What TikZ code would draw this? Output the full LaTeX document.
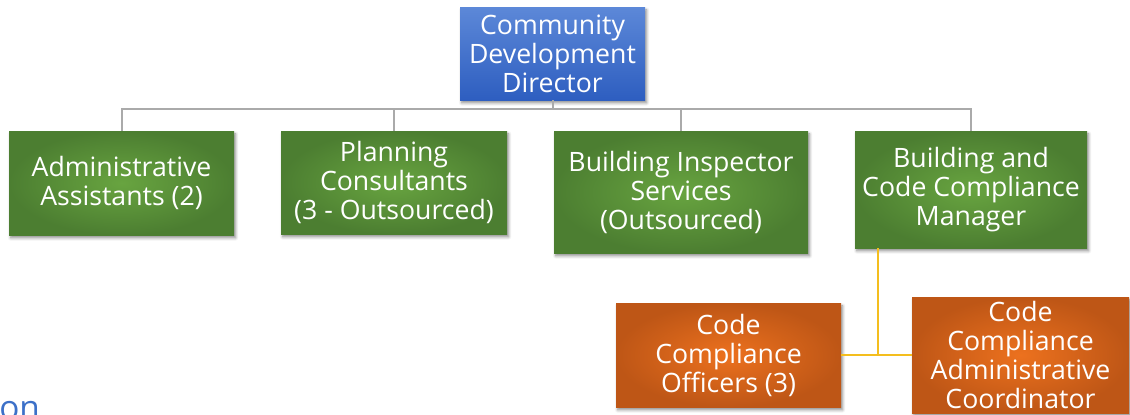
\documentclass[tikz,border=0pt]{standalone}
\usepackage{fontspec}
\setmainfont{Open Sans}
\usetikzlibrary{shadows.blur}
\definecolor{grnin}{RGB}{104,164,64}
\definecolor{grnout}{RGB}{76,126,49}
\definecolor{orgin}{RGB}{236,113,30}
\definecolor{orgout}{RGB}{190,86,22}
\definecolor{bluetop}{RGB}{92,136,216}
\definecolor{bluebot}{RGB}{46,94,192}
\definecolor{busgray}{RGB}{170,170,170}
\definecolor{gold}{RGB}{244,190,30}
\definecolor{linkblue}{RGB}{60,112,200}
\tikzset{
  x=0.75pt, y=-0.75pt,
  orgbox/.style={rectangle, inner sep=0pt, align=center, text=white,
    font=\fontsize{20}{21.75}\selectfont,
    blur shadow={shadow xshift=1.2pt, shadow yshift=-2.2pt, shadow blur steps=6, shadow opacity=45}},
  greenbox/.style={orgbox, inner color=grnin, outer color=grnout},
  orangebox/.style={orgbox, inner color=orgin, outer color=orgout},
  bluebox/.style={orgbox, top color=bluetop, bottom color=bluebot},
  bus/.style={draw=busgray, line width=1.5pt},
  goldlink/.style={draw=gold, line width=1.5pt},
}
\begin{document}
\begin{tikzpicture}
\useasboundingbox (0,0) rectangle (1130,414);
\begin{scope}
\clip (0,0) rectangle (1130,414);

% junction points of the reporting lines
\coordinate (bus) at (552.5,109);
\coordinate (hub) at (878,355);

\node[bluebox, minimum width=138.75pt, minimum height=69.75pt] (dir) at (552.5,53.5)
  {Community\\Development\\Director};
\node[greenbox, minimum width=168.75pt, minimum height=78pt] (admin) at (121.5,183)
  {Administrative\\Assistants (2)};
\node[greenbox, minimum width=169.5pt, minimum height=77.25pt] (plan) at (394,182.5)
  {Planning\\Consultants\\(3 - Outsourced)};
\node[greenbox, minimum width=190.5pt, minimum height=91.5pt] (insp) at (681,192)
  {Building Inspector\\Services\\(Outsourced)};
\node[greenbox, minimum width=174pt, minimum height=87.75pt] (mgr) at (971,189.5)
  {Building and\\Code Compliance\\Manager};
\node[orangebox, minimum width=168.75pt, minimum height=78pt] (off) at (728.5,355)
  {Code\\Compliance\\Officers (3)};
\node[orangebox, minimum width=162.75pt, minimum height=87pt] (coord) at (1020.5,355)
  {Code\\Compliance\\Administrative\\Coordinator};

% reporting lines
\draw[bus] (dir.south) -- (bus);
\draw[bus] (admin.north) -- (admin.north |- bus) -- (mgr.north |- bus) -- (mgr.north);
\draw[bus] (plan.north) -- (plan.north |- bus);
\draw[bus] (insp.north) -- (insp.north |- bus);
\draw[goldlink] (mgr.south -| hub) -- (hub);
\draw[goldlink] (off.east) -- (coord.west);

% caption fragment at the lower left
\node[anchor=base west, inner sep=0pt, text=linkblue, font=\fontsize{25}{27}\selectfont] (cap) at (-1,419) {on};
\end{scope}
\end{tikzpicture}
\end{document}
